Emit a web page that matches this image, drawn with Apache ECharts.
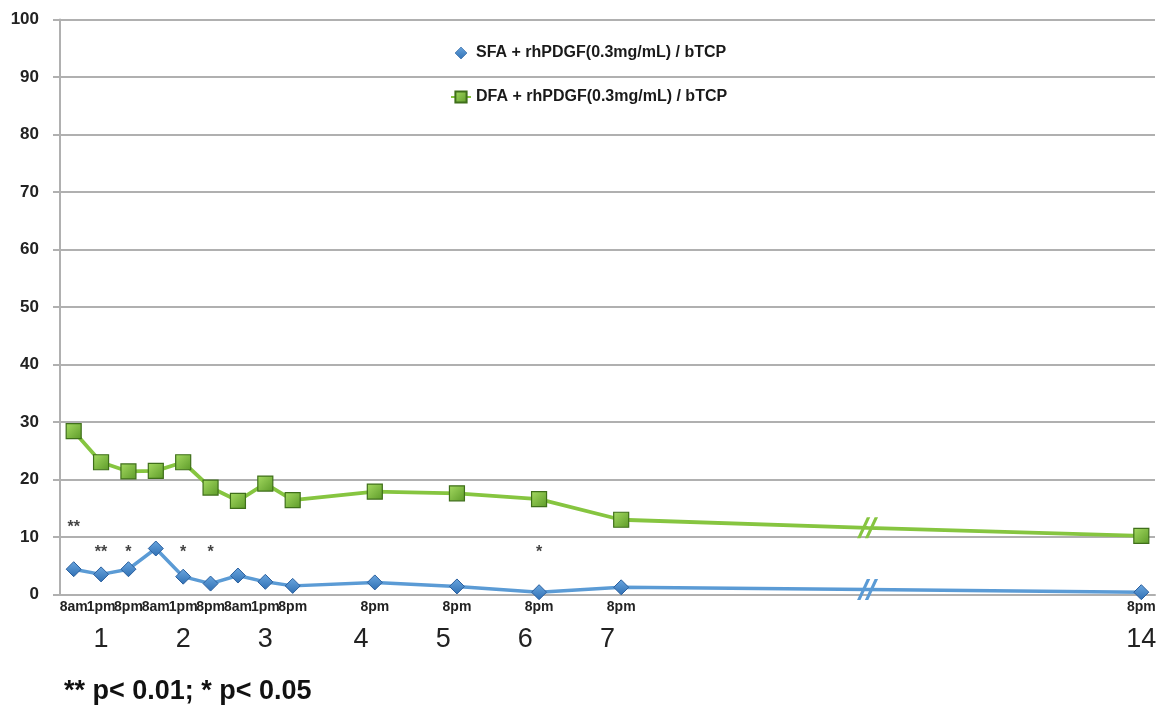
<!DOCTYPE html>
<html>
<head>
<meta charset="utf-8">
<script src="https://cdn.jsdelivr.net/npm/echarts@6/dist/echarts.min.js"></script>
<style>
html,body{margin:0;padding:0;background:#fff;}
#chart{width:1166px;height:709px;}
</style>
</head>
<body>
<div id="chart"></div>
<script>
// ---- data ----
const slotCount = 40;
const pointSlots = [0, 1, 2, 3, 4, 5, 6, 7, 8, 11, 14, 17, 20, 39];
const timeLabels = ['8am', '1pm', '8pm', '8am', '1pm', '8pm', '8am', '1pm', '8pm', '8pm', '8pm', '8pm', '8pm', '8pm'];
const sfaValues = [4.4, 3.5, 4.4, 8.0, 3.1, 1.9, 3.3, 2.2, 1.5, 2.1, 1.4, 0.4, 1.25, 0.4];
const dfaValues = [28.4, 23.0, 21.4, 21.5, 23.0, 18.6, 16.3, 19.3, 16.4, 17.9, 17.6, 16.6, 13.0, 10.2];
const dayLabels = ['1', '2', '3', '4', '5', '6', '7', '14'];
const dayPositions = [1.5, 4.5, 7.5, 11, 14, 17, 20, 39.5];
const breakSlot = 29;
const sfaBreakValue = 0.85;
const dfaBreakValue = 11.6;
const starSlots = [0, 1, 2, 4, 5, 17];
const starTexts = ['**', '**', '*', '*', '*', '*'];
const starValues = [11.6, 7.3, 7.3, 7.3, 7.3, 7.3];
const yTicks = [0, 10, 20, 30, 40, 50, 60, 70, 80, 90, 100];
const seriesNames = ['SFA + rhPDGF(0.3mg/mL) / bTCP', 'DFA + rhPDGF(0.3mg/mL) / bTCP'];
const footnote = '** p< 0.01; * p< 0.05';

// ---- build ----
const FONT = '"Liberation Sans", Arial, sans-serif';
const BLUE = '#5b9bd5';
const GREEN = '#86c540';
const breakPath = 'path://M0,20 L10,0 L13.5,0 L3.5,20 Z M8,20 L18,0 L21.5,0 L11.5,20 Z';
// diamond centred in a 20x14 box (tiny corner anchors keep the aspect)
const legendDiamond = 'path://M0,0 L0.01,0 L0,0.01 Z M20,14 L19.99,14 L20,13.99 Z M4,7 L10,1 L16,7 L10,13 Z';

const categories = new Array(slotCount).fill('');
pointSlots.forEach((s, i) => { categories[s] = timeLabels[i]; });

function buildSeries(values, breakValue, color) {
  const arr = new Array(slotCount).fill(null);
  pointSlots.forEach((s, i) => { arr[s] = values[i]; });
  arr[breakSlot] = {
    value: breakValue,
    symbol: breakPath,
    symbolSize: [21, 21],
    itemStyle: { color: color, borderWidth: 0 }
  };
  return arr;
}

const chart = echarts.init(document.getElementById('chart'), null, { renderer: 'canvas' });
chart.setOption({
  animation: false,
  backgroundColor: '#ffffff',
  title: {
    text: footnote,
    left: 59,
    top: 673,
    textStyle: { fontFamily: FONT, fontWeight: 'bold', fontSize: 27, color: '#111' }
  },
  legend: {
    orient: 'vertical',
    left: 445,
    top: 40,
    itemWidth: 20,
    itemHeight: 14,
    itemGap: 28,
    data: [
      { name: seriesNames[0], icon: legendDiamond, itemStyle: { borderWidth: 0.6 } },
      { name: seriesNames[1] }
    ],
    textStyle: { fontFamily: FONT, fontWeight: 'bold', fontSize: 16, color: '#1a1a1a' }
  },
  grid: { left: 60, right: 11, top: 19.5, bottom: 114.5 },
  xAxis: [
    {
      type: 'category',
      data: categories,
      boundaryGap: true,
      axisLine: { show: true, lineStyle: { color: '#b0b0b0', width: 2 } },
      axisTick: { show: false },
      axisLabel: {
        interval: 0,
        margin: 6,
        fontFamily: FONT,
        fontWeight: 'bold',
        fontSize: 14,
        color: '#222'
      },
      splitLine: { show: false }
    },
    {
      type: 'value',
      position: 'bottom',
      min: 0,
      max: slotCount,
      interval: 0.5,
      axisLine: { show: false },
      axisTick: { show: false },
      splitLine: { show: false },
      axisLabel: {
        margin: 32,
        fontFamily: FONT,
        fontSize: 27,
        color: '#222',
        showMinLabel: true,
        showMaxLabel: true,
        formatter: function (v) {
          const i = dayPositions.findIndex(p => Math.abs(p - v) < 0.01);
          return i >= 0 ? dayLabels[i] : '';
        }
      }
    }
  ],
  yAxis: {
    type: 'value',
    min: yTicks[0],
    max: yTicks[yTicks.length - 1],
    interval: yTicks[1] - yTicks[0],
    axisLine: { show: true, lineStyle: { color: '#b0b0b0', width: 2 } },
    axisTick: { show: true, length: 7, lineStyle: { color: '#b0b0b0', width: 2 } },
    axisLabel: {
      margin: 21,
      fontFamily: FONT,
      fontWeight: 'bold',
      fontSize: 17,
      color: '#222'
    },
    splitLine: { show: true, lineStyle: { color: '#b0b0b0', width: 2 } }
  },
  series: [
    {
      name: seriesNames[0],
      type: 'line',
      xAxisIndex: 0,
      connectNulls: true,
      data: buildSeries(sfaValues, sfaBreakValue, BLUE),
      symbol: 'diamond',
      symbolSize: 15,
      lineStyle: { color: BLUE, width: 3.5 },
      itemStyle: {
        color: new echarts.graphic.LinearGradient(0, 0, 0, 1, [
          { offset: 0, color: '#6aa6df' },
          { offset: 1, color: '#2f6fb3' }
        ]),
        borderColor: '#2a5f9e',
        borderWidth: 1
      },
      z: 3
    },
    {
      name: seriesNames[1],
      type: 'line',
      xAxisIndex: 0,
      connectNulls: true,
      data: buildSeries(dfaValues, dfaBreakValue, GREEN),
      symbol: 'rect',
      symbolSize: 15,
      lineStyle: { color: GREEN, width: 3.8 },
      itemStyle: {
        color: new echarts.graphic.LinearGradient(0, 0, 1, 1, [
          { offset: 0, color: '#a6db62' },
          { offset: 1, color: '#5c9a28' }
        ]),
        borderColor: '#3f6f1a',
        borderWidth: 1.2
      },
      z: 3
    },
    {
      type: 'scatter',
      xAxisIndex: 0,
      symbolSize: 1,
      itemStyle: { color: 'rgba(0,0,0,0)' },
      silent: true,
      data: starSlots.map((s, i) => ({ value: [s, starValues[i]], label: { formatter: starTexts[i] } })),
      label: {
        show: true,
        position: 'inside',
        fontFamily: FONT,
        fontWeight: 'bold',
        fontSize: 16,
        color: '#111'
      },
      z: 5
    }
  ]
});
</script>
</body>
</html>
